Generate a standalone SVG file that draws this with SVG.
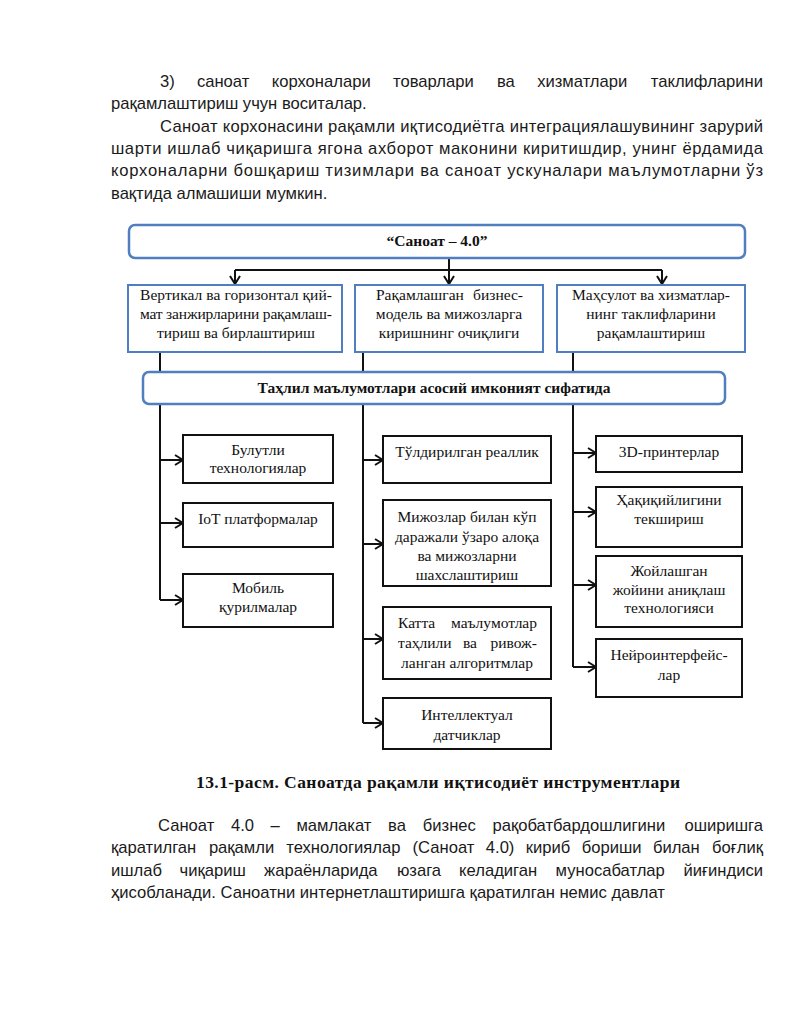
<svg xmlns="http://www.w3.org/2000/svg" width="800" height="1035" viewBox="0 0 800 1035">
<defs>
<style>
.body{font-family:"Liberation Sans",Arial,sans-serif;font-size:16.6px;fill:#1a1a1a}
.end{text-anchor:end}
.bx{font-family:"Liberation Serif","Times New Roman",serif;font-size:15.5px;fill:#111;text-anchor:middle}
.bs{text-anchor:start}
.be{text-anchor:end}
.bold{font-weight:bold}
.cap{font-family:"Liberation Serif","Times New Roman",serif;font-size:17.5px;font-weight:bold;fill:#111}
.rnd{fill:#fff;stroke:#4f7fc0;stroke-width:2.5}
.blue{fill:#fff;stroke:#4f7fc0;stroke-width:2}
.blk{fill:#fff;stroke:#111;stroke-width:2}
.ln{fill:none;stroke:#111;stroke-width:2}
</style>
<marker id="arr" viewBox="0 0 10 12" refX="9" refY="6" markerWidth="10" markerHeight="12" markerUnits="userSpaceOnUse" orient="auto">
<path d="M1,1 L9,6 L1,11" fill="none" stroke="#111" stroke-width="2"/>
</marker>
</defs>
<rect width="800" height="1035" fill="#fff"/>

<g id="text-top">
<text class="body" y="87"><tspan x="160">3)</tspan><tspan x="196.9">саноат</tspan><tspan x="271.8">корхоналари</tspan><tspan x="393.1">товарлари</tspan><tspan x="496.9">ва</tspan><tspan x="537.2">хизматлари</tspan></text>
<text class="body end" x="763" y="87">таклифларини</text>
<text class="body" x="111" y="109">рақамлаштириш учун воситалар.</text>
<text class="body" x="160" y="132" textLength="603" lengthAdjust="spacing">Саноат корхонасини рақамли иқтисодиётга интеграциялашувининг зарурий</text>
<text class="body" x="111" y="154" textLength="652" lengthAdjust="spacing">шарти ишлаб чиқаришга ягона ахборот маконини киритишдир, унинг ёрдамида</text>
<text class="body" x="111" y="176" textLength="652" lengthAdjust="spacing">корхоналарни бошқариш тизимлари ва саноат ускуналари маълумотларни ўз</text>
<text class="body" x="111" y="199">вақтида алмашиши мумкин.</text>
</g>

<g id="connectors">
<path class="ln" d="M449,258 V270 M235,270 H662"/>
<path class="ln" d="M235,270 V284" marker-end="url(#arr)"/>
<path class="ln" d="M449,270 V284" marker-end="url(#arr)"/>
<path class="ln" d="M662,270 V284" marker-end="url(#arr)"/>
<path class="ln" d="M160,352 V600 M363,352 V723 M573,352 V667"/>
<path class="ln" d="M160,460 H183" marker-end="url(#arr)"/>
<path class="ln" d="M160,523 H183" marker-end="url(#arr)"/>
<path class="ln" d="M160,600 H183" marker-end="url(#arr)"/>
<path class="ln" d="M363,460 H383" marker-end="url(#arr)"/>
<path class="ln" d="M363,544 H383" marker-end="url(#arr)"/>
<path class="ln" d="M363,639 H383" marker-end="url(#arr)"/>
<path class="ln" d="M363,723 H383" marker-end="url(#arr)"/>
<path class="ln" d="M573,453 H596" marker-end="url(#arr)"/>
<path class="ln" d="M573,512 H596" marker-end="url(#arr)"/>
<path class="ln" d="M573,585 H596" marker-end="url(#arr)"/>
<path class="ln" d="M573,667 H596" marker-end="url(#arr)"/>
</g>

<g id="n-sanoat">
<rect class="rnd" x="129" y="225" width="616" height="33" rx="6"/>
<text class="bx bold" x="437" y="246">“Саноат – 4.0”</text>
</g>

<g id="n-vertikal">
<rect class="blue" x="128" y="285" width="214" height="67"/>
<text class="bx" x="236" y="300" textLength="192" lengthAdjust="spacing">Вертикал ва горизонтал қий-</text>
<text class="bx" x="236" y="319" textLength="192" lengthAdjust="spacing">мат занжирларини рақамлаш-</text>
<text class="bx" x="236" y="338">тириш ва бирлаштириш</text>
</g>
<g id="n-biznes">
<rect class="blue" x="355" y="285" width="188" height="67"/>
<text class="bx bs" x="376" y="300">Рақамлашган</text>
<text class="bx be" x="523" y="300">бизнес-</text>
<text class="bx" x="449" y="319">модель ва мижозларга</text>
<text class="bx" x="449" y="338">киришнинг очиқлиги</text>
</g>
<g id="n-mahsulot">
<rect class="blue" x="557" y="285" width="188" height="67"/>
<text class="bx" x="651" y="300">Маҳсулот ва хизматлар-</text>
<text class="bx" x="651" y="319">нинг таклифларини</text>
<text class="bx" x="651" y="338">рақамлаштириш</text>
</g>

<g id="n-tahlil">
<rect class="rnd" x="143" y="372" width="582" height="32" rx="6"/>
<text class="bx bold" x="434" y="393">Таҳлил маълумотлари асосий имконият сифатида</text>
</g>

<g id="n-bulut">
<rect class="blk" x="183" y="435" width="150" height="48"/>
<text class="bx" x="258" y="455">Булутли</text>
<text class="bx" x="258" y="473">технологиялар</text>
</g>
<g id="n-iot">
<rect class="blk" x="183" y="503" width="150" height="44"/>
<text class="bx" x="258" y="524">IoT платформалар</text>
</g>
<g id="n-mobil">
<rect class="blk" x="183" y="574" width="150" height="53"/>
<text class="bx" x="258" y="593">Мобиль</text>
<text class="bx" x="258" y="612">қурилмалар</text>
</g>

<g id="n-real">
<rect class="blk" x="383" y="436" width="168" height="47"/>
<text class="bx" x="467" y="457">Тўлдирилган реаллик</text>
</g>
<g id="n-mijoz">
<rect class="blk" x="383" y="500" width="168" height="86"/>
<text class="bx" x="467" y="522">Мижозлар билан кўп</text>
<text class="bx" x="467" y="542">даражали ўзаро алоқа</text>
<text class="bx" x="467" y="561">ва мижозларни</text>
<text class="bx" x="467" y="580">шахслаштириш</text>
</g>
<g id="n-katta">
<rect class="blk" x="383" y="607" width="168" height="72"/>
<text class="bx bs" x="398" y="628">Катта</text>
<text class="bx be" x="537" y="628">маълумотлар</text>
<text class="bx bs" x="398" y="648">таҳлили</text>
<text class="bx" x="470" y="648">ва</text>
<text class="bx be" x="537" y="648">ривож-</text>
<text class="bx" x="467" y="668">ланган алгоритмлар</text>
</g>
<g id="n-intel">
<rect class="blk" x="383" y="698" width="168" height="51"/>
<text class="bx" x="467" y="720">Интеллектуал</text>
<text class="bx" x="467" y="740">датчиклар</text>
</g>

<g id="n-3d">
<rect class="blk" x="596" y="436" width="146" height="36"/>
<text class="bx" x="669" y="457">3D-принтерлар</text>
</g>
<g id="n-haqiq">
<rect class="blk" x="596" y="487" width="146" height="60"/>
<text class="bx" x="669" y="505">Ҳақиқийлигини</text>
<text class="bx" x="669" y="524">текшириш</text>
</g>
<g id="n-joy">
<rect class="blk" x="596" y="556" width="146" height="71"/>
<text class="bx" x="669" y="576">Жойлашган</text>
<text class="bx" x="669" y="595">жойини аниқлаш</text>
<text class="bx" x="669" y="613">технологияси</text>
</g>
<g id="n-neyro">
<rect class="blk" x="596" y="639" width="146" height="58"/>
<text class="bx" x="669" y="660">Нейроинтерфейс-</text>
<text class="bx" x="669" y="680">лар</text>
</g>

<g id="caption">
<text class="cap" x="196" y="788" textLength="484" lengthAdjust="spacing">13.1-расм. Саноатда рақамли иқтисодиёт инструментлари</text>
</g>

<g id="text-bottom">
<text class="body" y="831"><tspan x="158">Саноат</tspan><tspan x="231">4.0</tspan><tspan x="270.6">–</tspan><tspan x="296.4">мамлакат</tspan><tspan x="388.1">ва</tspan><tspan x="422.8">бизнес</tspan><tspan x="492.5">рақобатбардошлигини</tspan></text>
<text class="body end" x="763" y="831">оширишга</text>
<text class="body" y="853"><tspan x="111">қаратилган</tspan><tspan x="208.9">рақамли</tspan><tspan x="286.3">технологиялар</tspan><tspan x="412.6">(Саноат</tspan><tspan x="485.8">4.0)</tspan><tspan x="525.8">кириб</tspan><tspan x="581.7">бориши</tspan><tspan x="652.9">билан</tspan></text>
<text class="body end" x="763" y="853">боғлиқ</text>
<text class="body" y="876"><tspan x="111">ишлаб</tspan><tspan x="179.6">чиқариш</tspan><tspan x="264.1">жараёнларида</tspan><tspan x="396.9">юзага</tspan><tspan x="459.1">келадиган</tspan><tspan x="555.6">муносабатлар</tspan></text>
<text class="body end" x="763" y="876">йиғиндиси</text>
<text class="body" x="111" y="898">ҳисобланади. Саноатни интернетлаштиришга қаратилган немис давлат</text>
</g>
</svg>
